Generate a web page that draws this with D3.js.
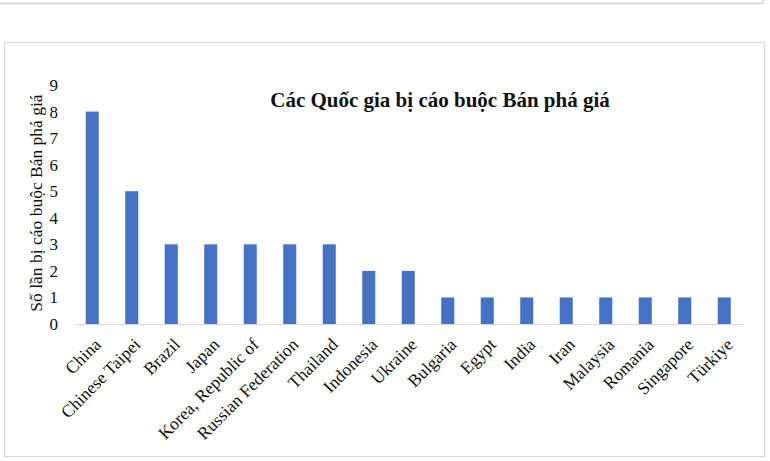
<!DOCTYPE html>
<html>
<head>
<meta charset="utf-8">
<script src="https://cdn.jsdelivr.net/npm/d3@7"></script>
<style>
  html, body { margin: 0; padding: 0; background: #fff; }
  svg { display: block; }
</style>
</head>
<body>
<svg id="chart" width="770" height="461"></svg>
<script>
const categories = ["China", "Chinese Taipei", "Brazil", "Japan", "Korea, Republic of", "Russian Federation", "Thailand", "Indonesia", "Ukraine", "Bulgaria", "Egypt", "India", "Iran", "Malaysia", "Romania", "Singapore", "Türkiye"];
const values = [8, 5, 3, 3, 3, 3, 3, 2, 2, 1, 1, 1, 1, 1, 1, 1, 1];
const yTicks = [0, 1, 2, 3, 4, 5, 6, 7, 8, 9];
const chartTitle = "Các Quốc gia bị cáo buộc Bán phá giá";
const yTitle = "Số lần bị cáo buộc Bán phá giá";

const svg = d3.select("#chart");
const serif = "'Liberation Serif', 'Times New Roman', serif";

// outer frames
svg.append("line").attr("x1", 0).attr("x2", 763).attr("y1", 3.5).attr("y2", 3.5)
  .attr("stroke", "#d0d0d0").attr("stroke-width", 1.5);
svg.append("line").attr("x1", 763).attr("x2", 763).attr("y1", 0).attr("y2", 4)
  .attr("stroke", "#d0d0d0").attr("stroke-width", 1.5);
svg.append("rect").attr("x", 4.5).attr("y", 42.5).attr("width", 760).attr("height", 414)
  .attr("fill", "none").attr("stroke", "#d9d9d9").attr("stroke-width", 1.2);

const x = d3.scaleBand().domain(categories).range([72.5, 744]).paddingInner(0.67).paddingOuter(0.335);
const y = d3.scaleLinear().domain([0, 9]).range([324, 85]);

// bars
svg.append("g").selectAll("rect").data(categories).join("rect")
  .attr("x", d => x(d))
  .attr("width", x.bandwidth())
  .attr("y", (d, i) => y(values[i]))
  .attr("height", (d, i) => y(0) - y(values[i]))
  .attr("fill", "#4472C4");

// x axis
const xAxis = svg.append("g").attr("transform", `translate(0,${y(0)})`)
  .call(d3.axisBottom(x).tickSize(0).tickPadding(0));
xAxis.select(".domain").attr("stroke", "#d9d9d9").attr("stroke-width", 1.2)
  .attr("d", "M75,0.5H744");
xAxis.selectAll(".tick text")
  .attr("font-family", serif).attr("font-size", 17.5).attr("fill", "#111")
  .attr("text-anchor", "end")
  .attr("dy", "0.7em")
  .attr("transform", "translate(1,13) rotate(-45)")
  .attr("x", 0).attr("y", 0);

// y axis
const yAxis = svg.append("g").attr("transform", "translate(58,0)")
  .call(d3.axisLeft(y).tickValues(yTicks).tickSize(0).tickPadding(0).tickFormat(d3.format("d")));
yAxis.select(".domain").remove();
yAxis.selectAll(".tick text")
  .attr("font-family", serif).attr("font-size", 17).attr("fill", "#111");

// y title
svg.append("text")
  .attr("transform", "translate(42,203) rotate(-90)")
  .attr("text-anchor", "middle")
  .attr("font-family", serif).attr("font-size", 17.5).attr("fill", "#111")
  .text(yTitle);

// chart title
svg.append("text")
  .attr("x", 440).attr("y", 107)
  .attr("text-anchor", "middle")
  .attr("font-family", serif).attr("font-size", 21).attr("font-weight", "bold").attr("fill", "#111")
  .text(chartTitle);
</script>
</body>
</html>
